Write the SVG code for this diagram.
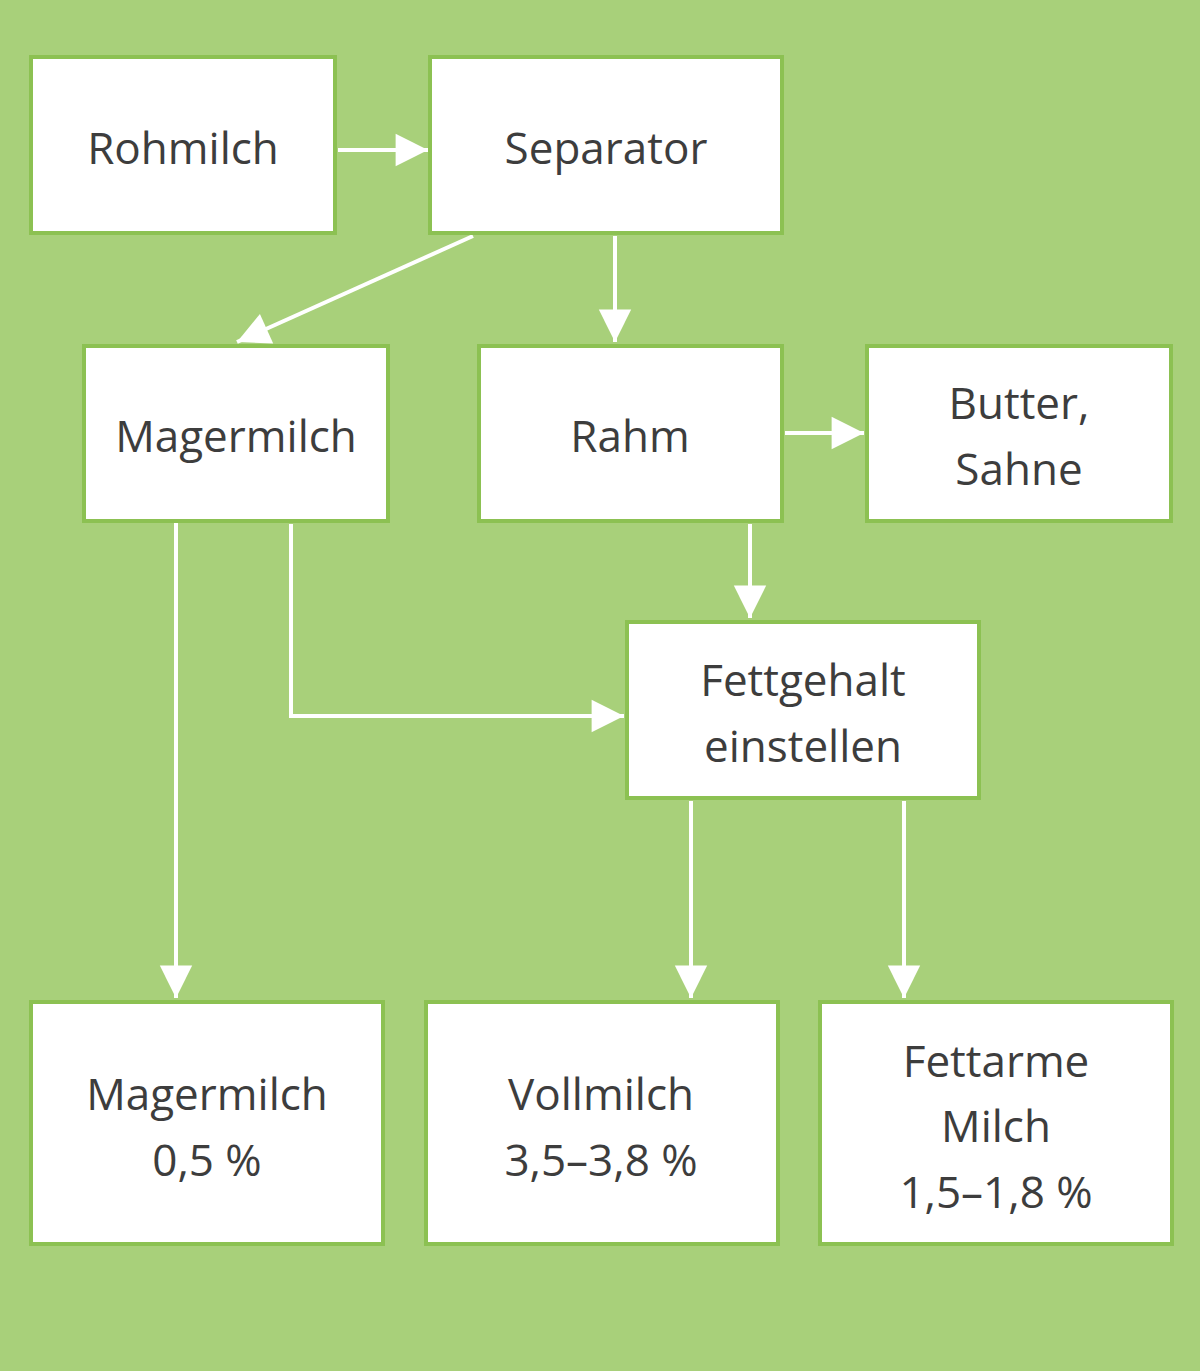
<svg xmlns="http://www.w3.org/2000/svg" width="1200" height="1371" viewBox="0 0 1200 1371">
<defs>
<style>
.b{fill:#fff;stroke:#8cc152;stroke-width:4}
.t{font-family:"Open Sans","Liberation Sans",sans-serif;font-size:44px;fill:#3d3d3d;text-anchor:middle}
.c{fill:none;stroke:#fff;stroke-width:4}
</style>
<marker id="a" viewBox="0 0 10 10" refX="10" refY="5" markerWidth="9" markerHeight="9" markerUnits="userSpaceOnUse" orient="auto" overflow="visible">
<path d="M0,0 L10,5 L0,10 z" fill="#fff" transform="scale(3.6)" transform-origin="10 5"/>
</marker>
</defs>
<rect width="1200" height="1371" fill="#a8d07a"/>
<g id="connectors">
<line class="c" x1="338" y1="150" x2="428" y2="150" marker-end="url(#a)"/>
<line class="c" x1="473" y1="236" x2="237" y2="342" marker-end="url(#a)"/>
<line class="c" x1="615" y1="236" x2="615" y2="342" marker-end="url(#a)"/>
<line class="c" x1="785" y1="433" x2="864" y2="433" marker-end="url(#a)"/>
<line class="c" x1="750" y1="524" x2="750" y2="618" marker-end="url(#a)"/>
<polyline class="c" points="291,524 291,716 624,716" marker-end="url(#a)"/>
<line class="c" x1="176" y1="521" x2="176" y2="998" marker-end="url(#a)"/>
<line class="c" x1="691" y1="801" x2="691" y2="998" marker-end="url(#a)"/>
<line class="c" x1="904" y1="801" x2="904" y2="998" marker-end="url(#a)"/>
</g>
<g id="rohmilch"><rect class="b" x="31" y="57" width="304" height="176"/><text class="t" x="183" y="164">Rohmilch</text></g>
<g id="separator"><rect class="b" x="430" y="57" width="352" height="176"/><text class="t" x="606" y="164">Separator</text></g>
<g id="magermilch"><rect class="b" x="84" y="346" width="304" height="175"/><text class="t" x="236" y="452">Magermilch</text></g>
<g id="rahm"><rect class="b" x="479" y="346" width="303" height="175"/><text class="t" x="630" y="452">Rahm</text></g>
<g id="butter"><rect class="b" x="867" y="346" width="304" height="175"/><text class="t" x="1019" y="419">Butter,</text><text class="t" x="1019" y="485">Sahne</text></g>
<g id="fettgehalt"><rect class="b" x="627" y="622" width="352" height="176"/><text class="t" x="803" y="696">Fettgehalt</text><text class="t" x="803" y="762">einstellen</text></g>
<g id="mager05"><rect class="b" x="31" y="1002" width="352" height="242"/><text class="t" x="207" y="1110">Magermilch</text><text class="t" x="207" y="1176">0,5 %</text></g>
<g id="vollmilch"><rect class="b" x="426" y="1002" width="352" height="242"/><text class="t" x="601" y="1110">Vollmilch</text><text class="t" x="601" y="1176">3,5–3,8 %</text></g>
<g id="fettarme"><rect class="b" x="820" y="1002" width="352" height="242"/><text class="t" x="996" y="1077">Fettarme</text><text class="t" x="996" y="1142">Milch</text><text class="t" x="996" y="1208">1,5–1,8 %</text></g>
</svg>
